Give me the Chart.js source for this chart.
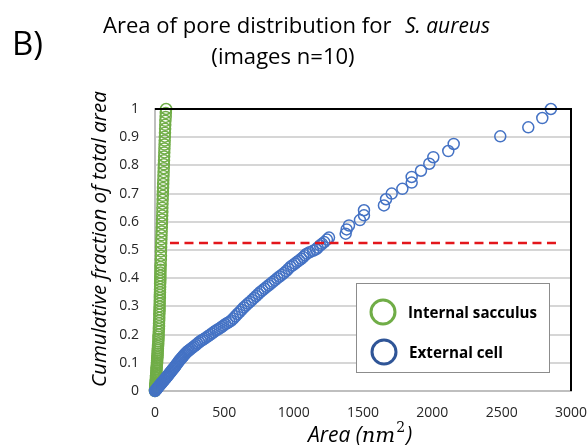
<!DOCTYPE html>
<html>
<head>
<meta charset="utf-8">
<script src="https://cdn.jsdelivr.net/npm/chart.js@4"></script>
<style>
  html, body { margin: 0; padding: 0; background: #fff; }
  #wrap { width: 587px; height: 447px; }
</style>
</head>
<body>
<div id="wrap"><canvas id="poreChart" width="587" height="447"></canvas></div>
<script>
// values: [area nm^2, cumulative fraction]
const internalSacculus = [
  [0,0],[0,0.003],[1,0.006],[1,0.01],[2,0.014],[3,0.018],[3,0.022],[4,0.026],[5,0.03],[5,0.035],
  [6,0.04],[7,0.045],[7,0.05],[8,0.055],[9,0.06],[10,0.066],[10,0.072],[11,0.078],[12,0.084],[13,0.09],
  [14,0.096],[15,0.102],[15,0.108],[16,0.114],[17,0.12],[18,0.126],[19,0.132],[19,0.138],[20,0.145],[21,0.152],
  [22,0.16],[23,0.168],[24,0.176],[25,0.184],[25,0.192],[26,0.2],[27,0.21],[28,0.22],[29,0.23],[29,0.24],
  [30,0.25],[31,0.26],[31,0.27],[32,0.28],[33,0.29],[33,0.3],[34,0.31],[34,0.32],[35,0.33],[35,0.34],
  [36,0.35],[36,0.36],[37,0.37],[37,0.38],[38,0.39],[38,0.4],[39,0.41],[39,0.42],[40,0.43],[40,0.44],
  [41,0.45],[42,0.465],[43,0.48],[43,0.495],[44,0.51],[45,0.524],[46,0.538],[47,0.552],[48,0.566],[49,0.58],
  [50,0.594],[51,0.608],[52,0.622],[53,0.636],[53,0.65],[54,0.664],[55,0.678],[56,0.692],[57,0.706],[58,0.72],
  [59,0.734],[60,0.748],[61,0.762],[62,0.776],[63,0.79],[64,0.804],[65,0.818],[66,0.832],[67,0.846],[68,0.86],
  [69,0.874],[70,0.888],[71,0.902],[72,0.916],[73,0.93],[74,0.944],[75,0.958],[77,0.972],[78,0.986],[80,1.0]
];

const externalCell = [
  [0,0],[5,0.003],[10,0.006],[15,0.009],[20,0.012],[25,0.015],[30,0.018],[35,0.021],[40,0.024],[45,0.027],
  [50,0.03],[56,0.033],[62,0.037],[68,0.04],[74,0.044],[80,0.047],[86,0.051],[92,0.054],[98,0.058],[104,0.062],
  [110,0.066],[116,0.069],[122,0.073],[128,0.077],[134,0.08],[140,0.084],[146,0.088],[152,0.092],[158,0.096],[164,0.1],
  [170,0.104],[176,0.108],[183,0.112],[190,0.116],[197,0.12],[204,0.124],[211,0.128],[218,0.132],[226,0.136],[234,0.14],
  [242,0.143],[250,0.146],[260,0.15],[270,0.154],[282,0.158],[294,0.163],[306,0.168],[318,0.173],[330,0.178],[342,0.181],
  [355,0.185],[368,0.189],[382,0.194],[396,0.199],[410,0.204],[424,0.209],[438,0.214],[452,0.218],[466,0.222],[480,0.227],
  [494,0.232],[508,0.237],[522,0.241],[536,0.245],[550,0.25],[565,0.257],[580,0.265],[595,0.273],[610,0.28],[625,0.288],
  [640,0.296],[655,0.303],[670,0.31],[685,0.316],[700,0.323],[715,0.33],[730,0.337],[745,0.344],[760,0.351],[775,0.357],
  [790,0.363],[805,0.369],[820,0.375],[835,0.381],[850,0.387],[866,0.393],[882,0.4],[898,0.406],[914,0.412],[930,0.418],
  [946,0.425],[962,0.433],[978,0.441],[993,0.446],[1010,0.452],[1025,0.458],[1040,0.463],[1055,0.469],[1069,0.475],[1081,0.481],
  [1095,0.487],[1115,0.492],[1140,0.497],[1161,0.502],[1173,0.508],[1190,0.516],[1205,0.522],[1221,0.528],[1240,0.537],[1255,0.544],
  [1375,0.558],[1382,0.573],[1399,0.587],[1478,0.606],[1507,0.623],[1507,0.641],[1651,0.658],[1666,0.68],[1707,0.7],[1784,0.717],
  [1851,0.739],[1851,0.759],[1918,0.781],[1978,0.806],[2007,0.829],[2115,0.851],[2154,0.876],[2490,0.903],[2692,0.935],[2793,0.968],
  [2855,1.0]
];

// red dashed reference level
const medianLine = [[108,0.525],[2900,0.525]];

const xTicks = [0, 500, 1000, 1500, 2000, 2500, 3000];
const yTicks = [0, 0.1, 0.2, 0.3, 0.4, 0.5, 0.6, 0.7, 0.8, 0.9, 1];
const legendNames = ["Internal sacculus", "External cell"];

const toXY = arr => arr.map(p => ({x: p[0], y: p[1]}));
const FONT = "'Open Sans', 'DejaVu Sans', sans-serif";

// draw text scaled so it spans a given width
function fitText(ctx, text, font, size, x, y, width) {
  ctx.font = font.replace("SZ", size + "px");
  let w = ctx.measureText(text).width;
  let s = size * width / w;
  ctx.font = font.replace("SZ", s.toFixed(2) + "px");
  ctx.fillText(text, x, y);
  return s;
}

const decor = {
  id: "decor",
  afterDraw(chart) {
    const ctx = chart.ctx;
    const a = chart.chartArea;
    ctx.save();

    // black top and right frame
    ctx.strokeStyle = "#000";
    ctx.lineWidth = 2;
    ctx.beginPath();
    ctx.moveTo(a.left, a.top);
    ctx.lineTo(a.right, a.top);
    ctx.lineTo(a.right, a.bottom);
    ctx.stroke();

    // titles
    ctx.fillStyle = "#000";
    ctx.textBaseline = "alphabetic";
    ctx.textAlign = "left";
    fitText(ctx, "B)", "SZ " + FONT, 40, 12, 55, 31);
    let s1 = fitText(ctx, "Area of pore distribution for  ", "SZ " + FONT, 20, 103, 33, 300);
    fitText(ctx, "S. aureus", "italic SZ " + FONT, 20, 405, 33, 85);
    ctx.font = s1.toFixed(2) + "px " + FONT;
    ctx.textAlign = "center";
    ctx.fillText("(images n=10)", 283, 64);
    ctx.textAlign = "left";

    // x axis title
    ctx.font = "italic 21px " + FONT;
    ctx.fillText("Area (", 308, 442);
    let xx = 308 + ctx.measureText("Area (").width;
    ctx.font = "italic 21px 'DejaVu Serif', serif";
    ctx.fillText("nm", xx, 442);
    xx += ctx.measureText("nm").width;
    ctx.font = "14px 'DejaVu Serif', serif";
    ctx.fillText("2", xx + 1, 432);
    xx += ctx.measureText("2").width + 2;
    ctx.font = "italic 21px " + FONT;
    ctx.fillText(")", xx, 442);

    // y axis title
    ctx.save();
    ctx.translate(106, 239);
    ctx.rotate(-Math.PI / 2);
    ctx.textAlign = "left";
    fitText(ctx, "Cumulative fraction of total area", "italic SZ " + FONT, 20, -148, 0, 296);
    ctx.restore();

    // legend box
    ctx.fillStyle = "#fff";
    ctx.fillRect(356, 283, 193, 89);
    ctx.strokeStyle = "#8c8c8c";
    ctx.lineWidth = 1;
    ctx.strokeRect(356.5, 283.5, 193, 89);
    ctx.lineWidth = 3;
    ctx.strokeStyle = "#70ad47";
    ctx.beginPath(); ctx.arc(383, 312, 12, 0, Math.PI * 2); ctx.stroke();
    ctx.strokeStyle = "#2f5597";
    ctx.beginPath(); ctx.arc(384, 352, 12, 0, Math.PI * 2); ctx.stroke();
    ctx.fillStyle = "#000";
    fitText(ctx, legendNames[0], "bold SZ " + FONT, 16, 408, 318, 129);
    fitText(ctx, legendNames[1], "bold SZ " + FONT, 16, 409, 358, 94);

    ctx.restore();
  }
};

let ctx = document.getElementById("poreChart").getContext("2d");

let poreChart = new Chart(ctx, {
  type: "scatter",
  data: {
    datasets: [
      {
        type: "line",
        label: "median",
        data: toXY(medianLine),
        borderColor: "#e3161b",
        borderWidth: 2.6,
        borderDash: [9, 5.5],
        pointRadius: 0,
        fill: false
      },
      {
        label: legendNames[1],
        data: toXY(externalCell),
        borderColor: "#4472c4",
        backgroundColor: "rgba(0,0,0,0)",
        borderWidth: 1.5,
        pointRadius: 5.5,
        clip: 10
      },
      {
        label: legendNames[0],
        data: toXY(internalSacculus),
        borderColor: "#70ad47",
        backgroundColor: "rgba(0,0,0,0)",
        borderWidth: 1.5,
        pointRadius: 5.5,
        clip: 10
      }
    ]
  },
  options: {
    responsive: false,
    animation: false,
    layout: { padding: { top: 109, right: 0, left: 0, bottom: 0 } },
    plugins: {
      legend: { display: false },
      tooltip: { enabled: false }
    },
    scales: {
      x: {
        type: "linear",
        min: 0,
        max: 3000,
        afterBuildTicks: s => { s.ticks = xTicks.map(v => ({value: v})); },
        afterFit: s => { s.height = 56; s.paddingRight = 16; s.paddingLeft = 0; },
        grid: { display: false, drawTicks: false },
        border: { display: true, color: "#bfbfbf", width: 2 },
        ticks: {
          padding: 14,
          color: "#262626",
          font: { family: FONT, size: 14 },
          callback: v => String(v)
        }
      },
      y: {
        min: 0,
        max: 1,
        afterBuildTicks: s => { s.ticks = yTicks.map(v => ({value: v})); },
        afterFit: s => { s.width = 155; },
        grid: { color: "#d6d6d6", lineWidth: 2, drawTicks: false },
        border: { display: true, color: "#bfbfbf", width: 2 },
        ticks: {
          padding: 16,
          color: "#262626",
          font: { family: FONT, size: 14 },
          callback: v => String(+v.toFixed(1))
        }
      }
    }
  },
  plugins: [decor]
});
</script>
</body>
</html>
